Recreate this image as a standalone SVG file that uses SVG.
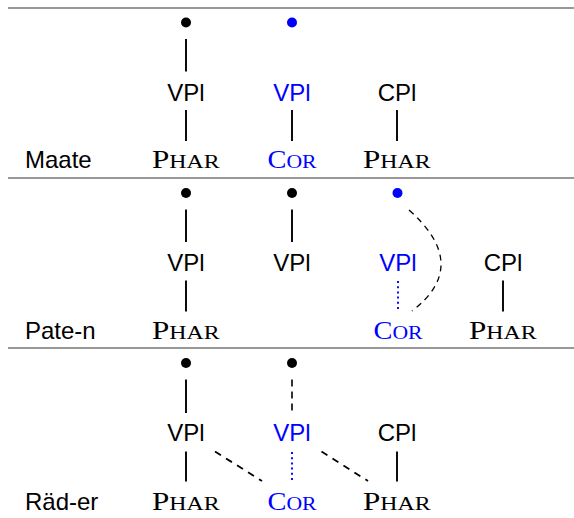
<svg xmlns="http://www.w3.org/2000/svg" width="574" height="518" viewBox="0 0 574 518">
<style>
.bg{fill:#ffffff}
.rule{stroke:#333;stroke-width:1.2;fill:none}
.ln{stroke:#000;stroke-width:1.9;fill:none}
.dash{stroke:#000;stroke-width:1.3;fill:none;stroke-dasharray:6 5}
.dot{stroke:#0000ff;stroke-width:1.9;fill:none;stroke-dasharray:2 3.2}
.sans{font-family:"Liberation Sans",Arial,sans-serif;font-size:24px;fill:#000}
.serif{font-family:"Liberation Serif","Times New Roman",serif;fill:#000}
.big{font-size:25.5px}
.sc{font-size:19.5px}
.blue{fill:#0000ff}
.mid{text-anchor:middle}
.node{fill:#000}
.bnode{fill:#0000ff}
</style>
<rect class="bg" x="0" y="0" width="574" height="518"/>
<g id="rules">
<line class="rule" x1="8" y1="8" x2="574" y2="8"/>
<line class="rule" x1="8" y1="178" x2="574" y2="178"/>
<line class="rule" x1="8" y1="348" x2="574" y2="348"/>
</g>
<g id="labels">
<text class="sans" x="25" y="168">Maate</text>
<text class="sans" x="25" y="338.5">Pate-n</text>
<text class="sans" x="25" y="509.5">Räd-er</text>
</g>
<g id="connectors">
<line class="ln" x1="186" y1="39" x2="186" y2="71.5"/>
<line class="ln" x1="186" y1="110" x2="186" y2="141"/>
<line class="ln" x1="292" y1="110" x2="292" y2="141"/>
<line class="ln" x1="397" y1="110" x2="397" y2="141"/>
<line class="ln" x1="186" y1="209.5" x2="186" y2="242"/>
<line class="ln" x1="292" y1="209.5" x2="292" y2="242"/>
<line class="ln" x1="186" y1="280.5" x2="186" y2="311.5"/>
<line class="dot" x1="398" y1="281" x2="398" y2="312"/>
<line class="ln" x1="503" y1="280.5" x2="503" y2="311.5"/>
<path class="dash" d="M409,210 Q471.5,265.5 412,311"/>
<line class="dash" x1="292" y1="379.5" x2="292" y2="413" style="stroke-width:1.6;stroke-dasharray:7 5"/>
<line class="ln" x1="186" y1="379.5" x2="186" y2="413"/>
<line class="ln" x1="186" y1="451.5" x2="186" y2="481.5"/>
<line class="dot" x1="292" y1="452" x2="292" y2="482"/>
<line class="ln" x1="397" y1="451.5" x2="397" y2="481.5"/>
<line class="dash" x1="215" y1="451.5" x2="262" y2="481" style="stroke-width:1.8;stroke-dasharray:7 6"/>
<line class="dash" x1="321.5" y1="451.5" x2="368" y2="481" style="stroke-width:1.8;stroke-dasharray:7 6"/>
</g>
<g id="row1">
<g id="r1-root1"><circle class="node" cx="186" cy="22.5" r="5"/></g>
<g id="r1-root2"><circle class="bnode" cx="292" cy="22.5" r="5"/></g>
<g id="r1-vpl1"><text class="sans mid" x="186" y="100.7">VPl</text></g>
<g id="r1-vpl2"><text class="sans mid blue" x="292" y="100.7">VPl</text></g>
<g id="r1-cpl"><text class="sans mid" x="397" y="100.7">CPl</text></g>
<g id="r1-phar1"><text class="serif" x="152" y="168.3" textLength="67.5" lengthAdjust="spacingAndGlyphs"><tspan class="big">P</tspan><tspan class="sc">HAR</tspan></text></g>
<g id="r1-cor"><text class="serif blue" x="267.5" y="168.3" textLength="49" lengthAdjust="spacingAndGlyphs"><tspan class="big">C</tspan><tspan class="sc">OR</tspan></text></g>
<g id="r1-phar2"><text class="serif" x="363" y="168.3" textLength="67.5" lengthAdjust="spacingAndGlyphs"><tspan class="big">P</tspan><tspan class="sc">HAR</tspan></text></g>
</g>
<g id="row2">
<g id="r2-root1"><circle class="node" cx="186" cy="193" r="5"/></g>
<g id="r2-root2"><circle class="node" cx="292" cy="193" r="5"/></g>
<g id="r2-root3"><circle class="bnode" cx="397.5" cy="193" r="5"/></g>
<g id="r2-vpl1"><text class="sans mid" x="186" y="271.3">VPl</text></g>
<g id="r2-vpl2"><text class="sans mid" x="292" y="271.3">VPl</text></g>
<g id="r2-vpl3"><text class="sans mid blue" x="398" y="271.3">VPl</text></g>
<g id="r2-cpl"><text class="sans mid" x="503" y="271.3">CPl</text></g>
<g id="r2-phar1"><text class="serif" x="152" y="338.5" textLength="67.5" lengthAdjust="spacingAndGlyphs"><tspan class="big">P</tspan><tspan class="sc">HAR</tspan></text></g>
<g id="r2-cor"><text class="serif blue" x="373.5" y="338.5" textLength="49" lengthAdjust="spacingAndGlyphs"><tspan class="big">C</tspan><tspan class="sc">OR</tspan></text></g>
<g id="r2-phar2"><text class="serif" x="469" y="338.5" textLength="67.5" lengthAdjust="spacingAndGlyphs"><tspan class="big">P</tspan><tspan class="sc">HAR</tspan></text></g>
</g>
<g id="row3">
<g id="r3-root1"><circle class="node" cx="186" cy="363" r="5"/></g>
<g id="r3-root2"><circle class="node" cx="292" cy="363" r="5"/></g>
<g id="r3-vpl1"><text class="sans mid" x="186" y="441.3">VPl</text></g>
<g id="r3-vpl2"><text class="sans mid blue" x="292" y="441.3">VPl</text></g>
<g id="r3-cpl"><text class="sans mid" x="397" y="441.3">CPl</text></g>
<g id="r3-phar1"><text class="serif" x="152" y="509.7" textLength="67.5" lengthAdjust="spacingAndGlyphs"><tspan class="big">P</tspan><tspan class="sc">HAR</tspan></text></g>
<g id="r3-cor"><text class="serif blue" x="267.5" y="509.7" textLength="49" lengthAdjust="spacingAndGlyphs"><tspan class="big">C</tspan><tspan class="sc">OR</tspan></text></g>
<g id="r3-phar2"><text class="serif" x="363" y="509.7" textLength="67.5" lengthAdjust="spacingAndGlyphs"><tspan class="big">P</tspan><tspan class="sc">HAR</tspan></text></g>
</g>
</svg>
